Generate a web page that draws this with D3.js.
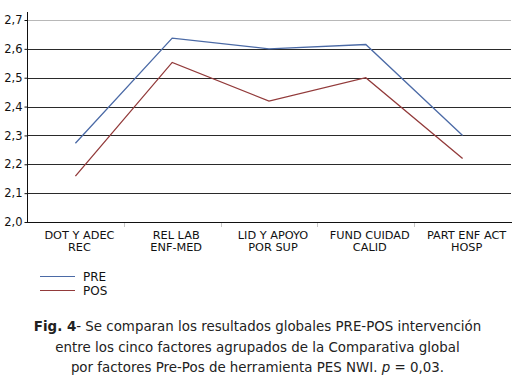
<!DOCTYPE html>
<html><head><meta charset="utf-8">
<script src="https://cdn.jsdelivr.net/npm/d3@7"></script>
<style>body{margin:0;background:#fff}svg{display:block}</style>
</head><body>
<script>
const categories = [["DOT Y ADEC","REC"],["REL LAB","ENF-MED"],["LID Y APOYO","POR SUP"],["FUND CUIDAD","CALID"],["PART ENF ACT","HOSP"]];
const preValues = [2.273, 2.637, 2.600, 2.615, 2.300];
const posValues = [2.159, 2.553, 2.419, 2.500, 2.220];
const yTicks = [2.0, 2.1, 2.2, 2.3, 2.4, 2.5, 2.6, 2.7];
const seriesNames = ["PRE","POS"];
const captionLines = [
  [{t:"Fig. 4",b:true},{t:"- Se comparan los resultados globales PRE-POS intervención",b:false}],
  [{t:"entre los cinco factores agrupados de la Comparativa global",b:false}],
  [{t:"por factores Pre-Pos de herramienta PES NWI. ",b:false},{t:"p",i:true},{t:" = 0,03.",b:false}]
];

const W=515,H=379, font="DejaVu Sans, Verdana, sans-serif";
const svg=d3.select("body").append("svg").attr("width",W).attr("height",H);
const x0=27,x1=511,yTop=20,yBot=222;
const x=d3.scaleBand().domain(d3.range(categories.length)).range([x0,x1]);
const y=d3.scaleLinear().domain([2.0,2.7]).range([yBot,yTop]);
const colors=["#4b6aa6","#923a3a"];

// gridlines
svg.append("g").selectAll("line").data(yTicks.filter(d=>d>2.0)).join("line")
  .attr("x1",x0).attr("x2",x1).attr("y1",d=>Math.round(y(d))+0.5).attr("y2",d=>Math.round(y(d))+0.5)
  .attr("stroke",d=>d>=2.7?"#b8b8b8":"#2a2a2a").attr("stroke-width",1);

// y axis
const ya=svg.append("g").attr("transform",`translate(${x0+0.5},0)`)
  .call(d3.axisLeft(y).tickValues(yTicks).tickSize(3).tickFormat(d=>d3.format(".1f")(d).replace(".",",")));
ya.select(".domain").attr("stroke","#111").attr("d",`M0,${yTop-8}V${yBot}`);
ya.selectAll(".tick line").attr("stroke","#111");
ya.selectAll("text").attr("font-family",font).attr("font-size",11.5).attr("fill","#111").attr("x",-5);

// x axis
svg.append("line").attr("x1",x0).attr("x2",x1+1).attr("y1",yBot+0.5).attr("y2",yBot+0.5).attr("stroke","#111");
svg.append("g").selectAll("line").data(d3.range(1,categories.length)).join("line")
  .attr("x1",d=>Math.round(x(d))+0.5).attr("x2",d=>Math.round(x(d))+0.5)
  .attr("y1",yBot+1).attr("y2",yBot+5).attr("stroke","#c8c8c8");
const xl=svg.append("g").selectAll("text").data(categories).join("text")
  .attr("font-family",font).attr("font-size",11.3).attr("fill","#111").attr("text-anchor","middle")
  .attr("x",(d,i)=>x(i)+x.bandwidth()/2+4).attr("y",239);
xl.selectAll("tspan").data(d=>d).join("tspan")
  .attr("x",function(){return d3.select(this.parentNode).attr("x");})
  .attr("dy",(d,i)=>i?12:0).text(d=>d);

// lines
const line=d3.line().x((d,i)=>x(i)+x.bandwidth()/2).y(d=>y(d));
[preValues,posValues].forEach((vals,k)=>{
  svg.append("path").datum(vals).attr("d",line).attr("fill","none")
    .attr("stroke",colors[k]).attr("stroke-width",1.3);
});

// legend
seriesNames.forEach((n,k)=>{
  const ly=276+k*14;
  svg.append("line").attr("x1",40).attr("x2",75).attr("y1",ly+0.5).attr("y2",ly+0.5).attr("stroke",colors[k]).attr("stroke-width",1);
  svg.append("text").attr("x",83).attr("y",ly+4.5).attr("font-family",font).attr("font-size",12).attr("fill","#111").text(n);
});

// caption
captionLines.forEach((ln,k)=>{
  const t=svg.append("text").attr("x",W/2).attr("y",331+k*20.5).attr("text-anchor","middle")
    .attr("font-family",font).attr("font-size",13.4).attr("fill","#222");
  ln.forEach(s=>t.append("tspan").attr("font-weight",s.b?"bold":"normal").attr("font-style",s.i?"italic":"normal").text(s.t));
});
</script>
</body></html>
